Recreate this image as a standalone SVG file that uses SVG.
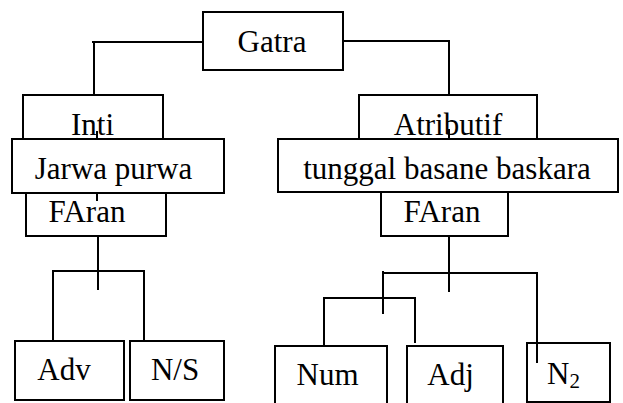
<svg xmlns="http://www.w3.org/2000/svg" width="623" height="403" viewBox="0 0 623 403" font-family="'Liberation Serif', 'Times New Roman', serif">
<style>
.box{fill:#fff;stroke:#000;stroke-width:2}
.t{font-family:'Liberation Serif','Times New Roman',serif;font-size:31px;fill:#000;text-anchor:middle}
.c{fill:none;stroke:#000;stroke-width:2}
</style>
<rect width="623" height="403" fill="#fff"/>
<g id="gatra"><rect class="box" x="203" y="12" width="140" height="58"/><text class="t" x="272" y="52">Gatra</text></g>
<g id="inti"><rect class="box" x="23" y="95" width="140" height="55"/><text class="t" x="92.5" y="135">Inti</text></g>
<g id="faran-left"><rect class="box" x="26" y="180" width="140" height="56"/><text class="t" x="87" y="222">FAran</text></g>
<g id="jarwa"><rect class="box" x="12" y="139" width="212" height="54"/><text class="t" x="113.5" y="179">Jarwa purwa</text></g>
<g id="atributif"><rect class="box" x="359" y="95" width="178" height="55"/><text class="t" x="448" y="135">Atributif</text></g>
<g id="faran-right"><rect class="box" x="381" y="180" width="127" height="56"/><text class="t" x="442" y="222">FAran</text></g>
<g id="tunggal"><rect class="box" x="278" y="139" width="340" height="53"/><text class="t" x="447" y="179">tunggal basane baskara</text></g>
<g id="adv"><rect class="box" x="15" y="341" width="109" height="59"/><text class="t" x="64" y="380">Adv</text></g>
<g id="ns"><rect class="box" x="130" y="341" width="94" height="59"/><text class="t" x="175" y="380">N/S</text></g>
<g id="num"><rect class="box" x="275" y="346" width="112" height="70"/><text class="t" x="327.5" y="385">Num</text></g>
<g id="adj"><rect class="box" x="407" y="346" width="96" height="70"/><text class="t" x="450.5" y="385">Adj</text></g>
<g id="n2"><rect class="box" x="527" y="343" width="83" height="59"/><text class="t" x="547" y="384" style="text-anchor:start">N<tspan font-size="21" dy="4">2</tspan></text></g>
<g id="connectors">
<path class="c" d="M92 42 H203 M94 42 V95"/>
<path class="c" d="M343 41 H449 V95"/>
<path class="c" d="M97 131 V139 M97 193 V201 M449 129 V139"/>
<path class="c" d="M98 236 V290 M52 271 H145 M53 271 V341 M144 271 V341"/>
<path class="c" d="M449 236 V292 M382 273 H538 M383 271 V314 M537 273 V363 M323 298 H416 M324 298 V346 M415 298 V343"/>
</g>
</svg>
